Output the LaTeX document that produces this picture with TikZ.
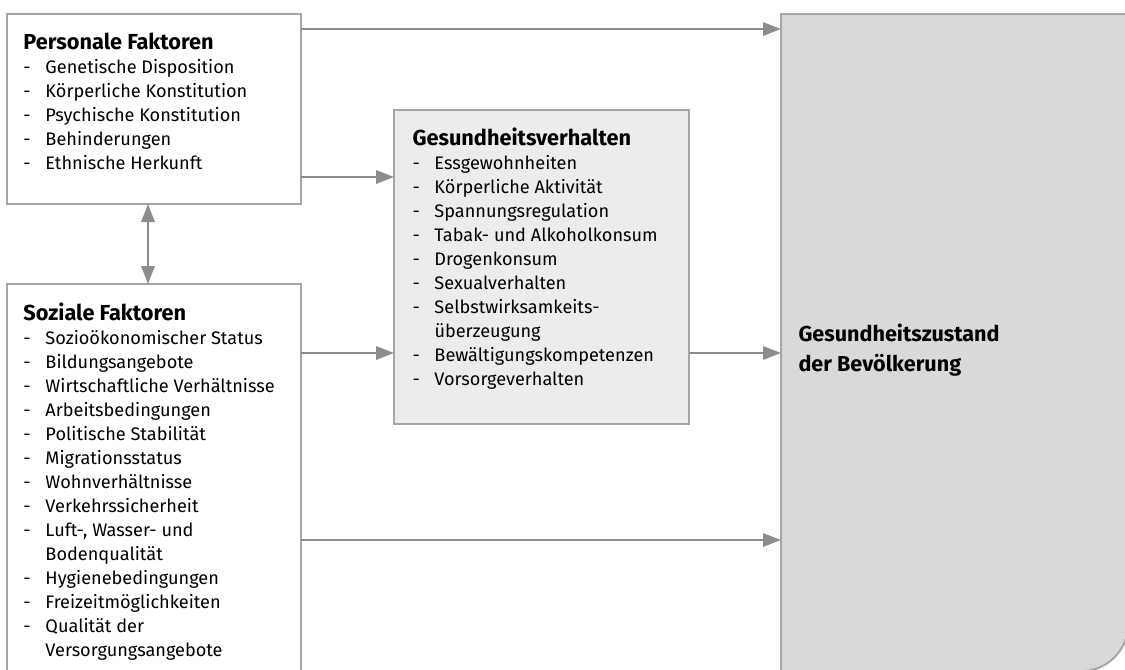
\documentclass[tikz,border=0pt]{standalone}
\usepackage{fontspec}
\setmainfont{Fira Sans}
\usetikzlibrary{arrows.meta}
\usetikzlibrary{calc}
\definecolor{rahmen}{RGB}{166,166,166}
\definecolor{pfeilgrau}{RGB}{140,140,140}
\definecolor{verhfill}{RGB}{236,236,236}
\definecolor{zustfill}{RGB}{217,217,217}
\newcommand{\punkt}[1]{\makebox[16.5pt][l]{-}#1}
\tikzset{every picture/.style={line width=0.75pt}}
\tikzset{
  kasten/.style={draw=rahmen, line width=1.5pt, fill=white, inner sep=0pt, outer sep=0pt, anchor=north west},
  pfeil/.style={draw=pfeilgrau, line width=1.5pt, -{Triangle[length=13.5pt,width=10pt]}},
  doppelpfeil/.style={draw=pfeilgrau, line width=1.5pt, {Triangle[length=13.5pt,width=10pt]}-{Triangle[length=13.5pt,width=10pt]}},
  titel/.style={anchor=base west, inner sep=0pt, font=\fontsize{16.3}{22.5}\selectfont\bfseries},
  liste/.style={anchor=north west, inner sep=0pt, align=left, font=\fontsize{13.6}{18}\selectfont},
  zusttext/.style={anchor=north west, inner sep=0pt, align=left, font=\fontsize{16.2}{22.5}\selectfont\bfseries},
}

\begin{document}
\begin{tikzpicture}[x=0.75pt,y=0.75pt,yscale=-1,xscale=1]
\useasboundingbox (0,0) rectangle (1125,669);
\clip (0,0) rectangle (1125,669);

%Shape: Rectangle [Gesundheitszustand]
\node [inner sep=0pt, outer sep=0pt, anchor=north west, minimum width=260.25pt, minimum height=492.75pt] (zust) at (781,14) {};
\draw [draw=rahmen, line width=1.5pt, fill=zustfill] (zust.north west) -- (zust.north east) -- ($(zust.south east)+(0,-46)$) .. controls ($(zust.south east)+(0,-21)$) and ($(zust.south east)+(-21,0)$) .. ($(zust.south east)+(-46,0)$) -- (zust.south west) -- cycle ;
%Shape: Rectangle [Personale Faktoren]
\node [kasten, minimum width=220.5pt, minimum height=142.5pt] (pers) at (7,14) {};
%Shape: Rectangle [Soziale Faktoren]
\node [kasten, minimum width=220.5pt, minimum height=312pt] (soz) at (7,284) {};
%Shape: Rectangle [Gesundheitsverhalten]
\node [kasten, fill=verhfill, minimum width=221.25pt, minimum height=235.5pt] (verh) at (394,110) {};

%Helper coordinates for the arrow heights
\coordinate (h1) at (0,29);
\coordinate (h2) at (0,177);
\coordinate (h3) at (0,353);
\coordinate (h4) at (0,540);
\coordinate (h5) at (148,0);

%Straight Lines
\draw [pfeil] (pers.east |- h1) -- (zust.west |- h1);
\draw [pfeil] (pers.east |- h2) -- (verh.west |- h2);
\draw [pfeil] (soz.east |- h3) -- (verh.west |- h3);
\draw [pfeil] (verh.east |- h3) -- (zust.west |- h3);
\draw [pfeil] (soz.east |- h4) -- (zust.west |- h4);
\draw [doppelpfeil] (pers.south -| h5) -- (soz.north -| h5);

% Text Node
\node [titel] (perstitel) at (23,49) {Personale Faktoren};
% Text Node
\node [liste] (persliste) at (23,56.2) {\strut\punkt{Genetische Disposition}\\
  \punkt{Körperliche Konstitution}\\
  \punkt{Psychische Konstitution}\\
  \punkt{Behinderungen}\\
  \punkt{Ethnische Herkunft}};
% Text Node
\node [titel] (soztitel) at (23,320) {Soziale Faktoren};
% Text Node
\node [liste] (sozliste) at (23,327.2) {\strut\punkt{Sozioökonomischer Status}\\
  \punkt{Bildungsangebote}\\
  \punkt{Wirtschaftliche Verhältnisse}\\
  \punkt{Arbeitsbedingungen}\\
  \punkt{Politische Stabilität}\\
  \punkt{Migrationsstatus}\\
  \punkt{Wohnverhältnisse}\\
  \punkt{Verkehrssicherheit}\\
  \punkt{Luft-, Wasser- und}\\
  \hspace*{16.5pt}Bodenqualität\\
  \punkt{Hygienebedingungen}\\
  \punkt{Freizeitmöglichkeiten}\\
  \punkt{Qualität der}\\
  \hspace*{16.5pt}Versorgungsangebote};
% Text Node
\node [titel] (verhtitel) at (412,145) {Gesundheitsverhalten};
% Text Node
\node [liste] (verhliste) at (412,152.2) {\strut\punkt{Essgewohnheiten}\\
  \punkt{Körperliche Aktivität}\\
  \punkt{Spannungsregulation}\\
  \punkt{Tabak- und Alkoholkonsum}\\
  \punkt{Drogenkonsum}\\
  \punkt{Sexualverhalten}\\
  \punkt{Selbstwirksamkeits-}\\
  \hspace*{16.5pt}überzeugung\\
  \punkt{Bewältigungskompetenzen}\\
  \punkt{Vorsorgeverhalten}};
% Text Node
\node [zusttext] (zusttitel) at (798,320) {\strut Gesundheitszustand\\der Bevölkerung};

\end{tikzpicture}
\end{document}
